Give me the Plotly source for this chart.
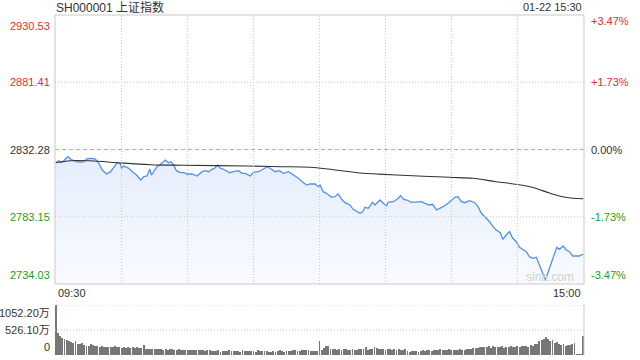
import plotly.graph_objects as go

# ---------------- data ----------------
prev_close = 2832.28
price_ticks = [2734.03, 2783.15, 2832.28, 2881.41, 2930.53]
price_tick_labels = ["2734.03", "2783.15", "2832.28", "2881.41", "2930.53"]
pct_tick_labels = ["-3.47%", "-1.73%", "0.00%", "+1.73%", "+3.47%"]
time_tick_vals = [0, 240]
time_tick_labels = ["09:30", "15:00"]
vol_ticks = [0, 526.10, 1052.20]
vol_tick_labels = ["0", "526.10万", "1052.20万"]

# minute index (0 = 09:30, 240 = 15:00) and index price
price_t = [0, 1.4, 2.7, 5.6, 6.8, 9.1, 11.3, 12.8, 14.4, 16.7,
           18.1, 19.6, 21.2, 23.1, 25.0, 26.5, 28.0, 29.5, 29.9, 31.0,
           33.3, 34.8, 36.8, 38.6, 40.1, 41.6, 42.8, 43.6, 44.6, 46.1,
           47.3, 49.9, 51.4, 52.5, 53.7, 54.9, 56.7, 58.2, 59.8, 62.0,
           64.3, 66.6, 68.1, 69.6, 71.1, 72.3, 73.6, 74.9, 76.4, 79.1,
           80.9, 83.2, 84.7, 86.2, 88.5, 90.0, 92.3, 94.5, 96.3, 97.5,
           99.8, 101.8, 103.6, 105.9, 108.1, 110.4, 112.7, 114.2, 115.7, 118.0,
           119.5, 120.2, 121.7, 123.2, 125.5, 127.0, 128.5, 130.1, 131.6, 133.8,
           135.3, 136.9, 138.4, 139.6, 140.7, 142.2, 144.1, 145.2, 147.5, 149.0,
           150.5, 151.2, 153.5, 155.3, 156.9, 158.3, 159.8, 161.8, 164.1, 166.4,
           167.9, 169.8, 171.4, 173.2, 174.7, 176.2, 178.5, 179.2, 181.5, 183.0,
           184.5, 186.0, 188.3, 190.6, 192.1, 193.6, 195.9, 197.4, 198.9, 200.4,
           202.2, 203.4, 204.9, 206.4, 207.9, 209.5, 211.0, 212.5, 214.0, 215.5,
           217.0, 218.6, 220.1, 221.6, 222.8, 223.8, 225.4, 226.9, 227.9, 229.1,
           230.9, 232.2, 233.7, 235.2, 236.7, 238.2, 240]
price_v = [2822.64, 2824.10, 2822.64, 2827.02, 2825.34, 2823.37, 2823.15, 2823.37, 2825.56, 2825.85,
           2825.12, 2822.20, 2817.31, 2814.38, 2816.07, 2819.72, 2822.64, 2822.20, 2818.55, 2820.23,
           2818.55, 2816.07, 2813.65, 2810.00, 2812.41, 2812.92, 2817.82, 2813.65, 2816.07, 2819.72,
           2820.96, 2824.61, 2822.64, 2823.37, 2820.96, 2816.80, 2815.33, 2815.33, 2814.38, 2814.38,
           2812.92, 2816.07, 2816.80, 2816.07, 2817.82, 2818.55, 2820.96, 2818.55, 2817.82, 2815.33,
           2816.07, 2816.80, 2814.89, 2814.89, 2812.92, 2815.63, 2816.07, 2817.82, 2819.72, 2818.55,
           2816.07, 2816.80, 2814.89, 2816.07, 2813.65, 2811.24, 2808.03, 2806.35, 2807.08, 2807.08,
           2805.11, 2806.35, 2801.45, 2800.29, 2797.36, 2797.80, 2799.77, 2795.90, 2793.42, 2791.74,
           2788.60, 2786.84, 2785.68, 2786.84, 2790.06, 2789.33, 2793.71, 2791.74, 2795.39, 2792.98,
           2791.01, 2793.71, 2794.15, 2795.90, 2798.53, 2795.90, 2795.39, 2793.71, 2793.71, 2794.15,
           2792.98, 2791.74, 2792.25, 2788.09, 2789.33, 2790.50, 2792.98, 2794.15, 2797.36, 2797.80,
           2794.15, 2793.42, 2794.88, 2793.42, 2790.50, 2785.68, 2782.02, 2779.54, 2775.89, 2773.48,
           2771.51, 2766.68, 2769.82, 2772.23, 2767.42, 2764.93, 2760.84, 2759.38, 2757.63, 2753.97,
           2752.80, 2753.54, 2747.18, 2741.85, 2736.96, 2741.85, 2749.15, 2755.21, 2760.84, 2759.38,
           2761.79, 2758.87, 2757.63, 2754.48, 2754.48, 2754.48, 2755.95]

# average price line
avg_t = [0, 6.8, 17.4, 28.0, 43.1, 58.2, 87.0, 102.1, 115.7, 124.8, 139.7,
         146.0, 154.9, 179.2, 189.8, 200.3, 210.0, 217.0, 224.6, 230.0, 235.2, 240]
avg_v = [2822.64, 2824.10, 2823.88, 2822.64, 2821.18, 2820.74, 2820.23, 2819.72, 2819.28, 2817.82, 2814.89,
         2814.38, 2813.65, 2811.97, 2811.24, 2808.76, 2806.70, 2804.50, 2800.50, 2797.95, 2796.63, 2796.34]

# volume per minute (万), 241 bars
volume = [1052, 470, 390, 365, 340, 315, 290, 270, 250, 285,
          240, 230, 250, 210, 200, 195, 240, 210, 180, 190,
          175, 185, 170, 165, 175, 160, 165, 200, 175, 165,
          150, 160, 155, 170, 150, 160, 145, 165, 155, 150,
          210, 130, 125, 135, 130, 120, 125, 135, 120, 115,
          125, 110, 120, 130, 115, 110, 125, 105, 110, 100,
          115, 105, 100, 110, 95, 100, 105, 95, 90, 100,
          95, 80, 90, 85, 95, 70, 85, 90, 80, 95,
          85, 75, 90, 80, 70, 95, 80, 75, 85, 90,
          80, 70, 95, 85, 75, 90, 80, 70, 65, 75,
          70, 85, 95, 80, 70, 90, 85, 75, 95, 100,
          90, 85, 105, 110, 100, 95, 90, 80, 85, 80,
          290, 110, 150, 200, 180, 130, 120, 125, 115, 120,
          100, 125, 130, 115, 105, 135, 115, 110, 120, 125,
          120, 165, 110, 125, 120, 165, 140, 120, 130, 125,
          115, 130, 120, 110, 125, 100, 120, 105, 110, 120,
          85, 70, 80, 75, 85, 70, 90, 95, 80, 100,
          105, 90, 100, 110, 95, 120, 110, 95, 100, 130,
          105, 110, 100, 115, 120, 95, 110, 125, 120, 130,
          140, 150, 145, 160, 175, 170, 165, 185, 150, 190,
          160, 175, 165, 180, 150, 170, 160, 185, 175, 165,
          190, 175, 180, 200, 195, 170, 210, 180, 225, 240,
          290, 310, 330, 380, 340, 300, 320, 250, 270, 230,
          210, 225, 200, 215, 205, 240, 260, 15, 12, 10,
          400]
vol_t = list(range(len(volume)))

# ---------------- style ----------------
RED = "#ee2a2a"
GREEN = "#1c9e1c"
DARK = "#333333"
GRID = "#c8c8c8"
FONT = "Liberation Sans, Arial, Noto Sans CJK SC"

W, H = 640, 360
L, R, T, B = 55, 56, 15, 5
PH = H - T - B  # 340


def py(pix):  # pixel y -> paper y
    return (H - B - pix) / PH


main_dom = [py(284), 1.0]
vol_dom = [0.0, py(305)]
x_range = [-0.3, 240.3]

fig = go.Figure()

fig.add_trace(go.Scatter(
    x=price_t, y=price_v, mode="lines",
    line=dict(color="#5090ee", width=1.3),
    fill="tozeroy",
    fillgradient=dict(type="vertical",
                      colorscale=[[0, "rgba(248,250,255,1)"], [1, "rgba(230,238,252,1)"]],
                      start=price_ticks[0], stop=2825),
    xaxis="x", yaxis="y", hoverinfo="skip", showlegend=False))

fig.add_trace(go.Scatter(
    x=avg_t, y=avg_v, mode="lines", line=dict(color="#333333", width=1.1, shape="spline"),
    xaxis="x", yaxis="y", hoverinfo="skip", showlegend=False))

fig.add_trace(go.Bar(
    x=vol_t, y=volume, width=0.4, marker=dict(color="#777777", line=dict(width=0)),
    xaxis="x2", yaxis="y2", hoverinfo="skip", showlegend=False))

DOT = "1px,2px"
shapes = []
# vertical grid lines (every 30 min)
for m in range(30, 240, 30):
    shapes.append(dict(type="line", xref="x", yref="paper", x0=m, x1=m,
                       y0=main_dom[0], y1=main_dom[1],
                       line=dict(color=GRID, width=1, dash=DOT)))
# horizontal grid lines
for v in [price_ticks[1], price_ticks[3]]:
    shapes.append(dict(type="line", xref="paper", yref="y", x0=0, x1=1, y0=v, y1=v,
                       line=dict(color=GRID, width=1, dash=DOT)))
shapes.append(dict(type="line", xref="paper", yref="y", x0=0, x1=1, y0=prev_close, y1=prev_close,
                   line=dict(color="#f0a070", width=1, dash="4px,3px")))
# main border
shapes.append(dict(type="rect", xref="paper", yref="paper", x0=0, x1=1,
                   y0=main_dom[0], y1=main_dom[1], line=dict(color=GRID, width=1)))
# volume grid
for v in [vol_ticks[1], vol_ticks[2]]:
    shapes.append(dict(type="line", xref="paper", yref="y2", x0=0, x1=1, y0=v, y1=v,
                       line=dict(color=GRID, width=1, dash=DOT)))
shapes.append(dict(type="line", xref="paper", yref="paper", x0=1, x1=1, y0=vol_dom[0], y1=vol_dom[1],
                   line=dict(color=GRID, width=1)))

ann = []
colors = [GREEN, GREEN, DARK, RED, RED]
for i, (v, lab, pct) in enumerate(zip(price_ticks, price_tick_labels, pct_tick_labels)):
    if i == 0:
        ya, ysl, ysr = "bottom", 1, 1
    elif i == 4:
        ya, ysl, ysr = "top", -3, 2
    else:
        ya, ysl, ysr = "middle", 0, 0
    ann.append(dict(x=0, xref="paper", y=v, yref="y", text=lab, showarrow=False,
                    xanchor="right", yanchor=ya, xshift=-3, yshift=ysl,
                    font=dict(size=11, color=colors[i], family=FONT)))
    ann.append(dict(x=1, xref="paper", y=v, yref="y", text=pct, showarrow=False,
                    xanchor="left", yanchor=ya, xshift=5, yshift=ysr,
                    font=dict(size=11, color=colors[i], family=FONT)))

for v, lab, ya, ys in zip(vol_ticks, vol_tick_labels, ["middle", "middle", "top"], [8, 0, 0]):
    ann.append(dict(x=0, xref="paper", y=v, yref="y2", text=lab, showarrow=False,
                    xanchor="right", yanchor=ya, xshift=-3, yshift=ys,
                    font=dict(size=11, color=DARK, family=FONT)))

for v, lab, xa in zip(time_tick_vals, time_tick_labels, ["left", "right"]):
    ann.append(dict(x=v, xref="x", y=py(293), yref="paper", text=lab, showarrow=False,
                    xanchor=xa, yanchor="middle",
                    font=dict(size=11, color=DARK, family=FONT)))

ann.append(dict(x=0, xref="paper", y=py(7), yref="paper", text="SH000001 上证指数",
                showarrow=False, xanchor="left", yanchor="middle", xshift=-1,
                font=dict(size=12, color=DARK, family=FONT)))
ann.append(dict(x=1, xref="paper", y=py(7), yref="paper", text="01-22 15:30",
                showarrow=False, xanchor="right", yanchor="middle",
                font=dict(size=11, color=DARK, family=FONT)))
ann.append(dict(x=0.985, xref="paper", y=py(277), yref="paper", text="sina.com",
                showarrow=False, xanchor="right", yanchor="middle",
                font=dict(size=12, color="#d0d0d0", family=FONT)))

fig.update_layout(
    width=W, height=H,
    margin=dict(l=L, r=R, t=T, b=B),
    paper_bgcolor="white", plot_bgcolor="white",
    xaxis=dict(domain=[0, 1], range=x_range, anchor="y", showgrid=False, zeroline=False,
               showticklabels=False, ticks="", fixedrange=True),
    yaxis=dict(domain=main_dom, range=[price_ticks[0], price_ticks[-1]], showgrid=False,
               zeroline=False, showticklabels=False, ticks="", fixedrange=True),
    xaxis2=dict(domain=[0, 1], range=x_range, anchor="y2", showgrid=False, zeroline=False,
                showticklabels=False, ticks="", fixedrange=True),
    yaxis2=dict(domain=vol_dom, range=[0, vol_ticks[-1]], showgrid=False, zeroline=False,
                showticklabels=False, ticks="", fixedrange=True),
    shapes=shapes, annotations=ann, bargap=0, showlegend=False,
)

fig.write_html("out.html", config={"displayModeBar": False},
               post_script="document.body.style.margin='0';document.body.style.padding='0';")
